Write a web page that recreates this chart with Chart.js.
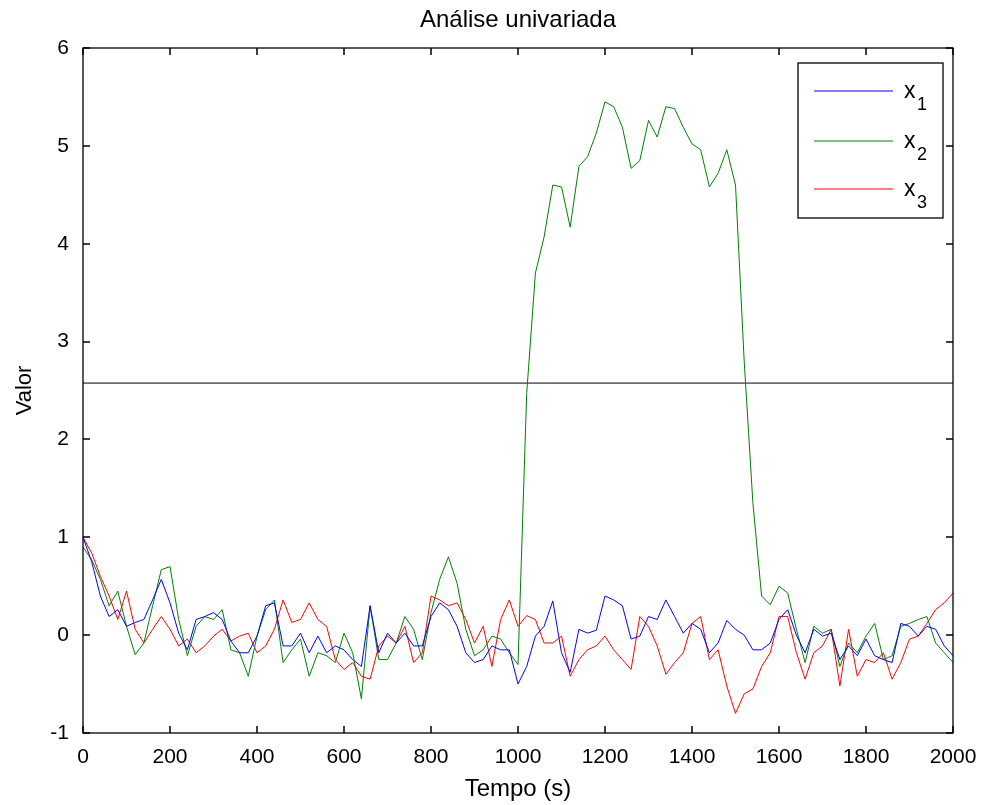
<!DOCTYPE html>
<html lang="pt">
<head>
<meta charset="UTF-8">
<script src="https://cdn.jsdelivr.net/npm/chart.js"></script>
<title>Análise univariada</title>
<style>
  body { margin: 0; background: #fff; }
  #wrap { width: 984px; height: 805px; }
</style>
</head>
<body>
<div id="wrap"><canvas id="chart" width="984" height="805"></canvas></div>
<script>
// tempo (s), amostrado a cada 20 s
const time = [0,20,40,60,80,100,120,140,160,180,200,220,240,260,280,300,320,340,360,380,
  400,420,440,460,480,500,520,540,560,580,600,620,640,660,680,700,720,740,760,780,
  800,820,840,860,880,900,920,940,960,980,1000,1020,1040,1060,1080,1100,1120,1140,1160,1180,
  1200,1220,1240,1260,1280,1300,1320,1340,1360,1380,1400,1420,1440,1460,1480,1500,1520,1540,1560,1580,
  1600,1620,1640,1660,1680,1700,1720,1740,1760,1780,1800,1820,1840,1860,1880,1900,1920,1940,1960,1980,2000];

const x1 = [1.0,0.75,0.4,0.19,0.26,0.09,0.13,0.16,0.36,0.57,0.33,0.02,-0.15,0.16,0.19,0.23,0.16,-0.06,-0.18,-0.18,
  -0.01,0.3,0.33,-0.11,-0.11,0.02,-0.18,-0.01,-0.18,-0.11,-0.15,-0.25,-0.32,0.3,-0.18,0.02,-0.08,0.02,-0.11,-0.11,
  0.19,0.33,0.26,0.09,-0.18,-0.28,-0.25,-0.11,-0.15,-0.15,-0.5,-0.32,-0.01,0.09,0.35,-0.18,-0.38,0.06,0.02,0.05,
  0.4,0.36,0.3,-0.04,-0.01,0.19,0.16,0.36,0.19,0.02,0.12,0.06,-0.18,-0.08,0.15,0.06,0.0,-0.15,-0.15,-0.08,
  0.16,0.26,0.0,-0.18,0.06,-0.01,0.02,-0.25,-0.11,-0.21,-0.04,-0.21,-0.25,-0.28,0.12,0.09,-0.01,0.09,0.06,-0.11,-0.21];

const x2 = [0.9,0.77,0.57,0.3,0.45,0.09,-0.2,-0.08,0.3,0.67,0.7,0.16,-0.21,0.09,0.19,0.16,0.26,-0.15,-0.18,-0.42,
  -0.01,0.26,0.36,-0.28,-0.15,-0.04,-0.42,-0.18,-0.21,-0.28,0.02,-0.18,-0.65,0.3,-0.25,-0.25,-0.08,0.19,0.06,-0.25,
  0.23,0.57,0.8,0.53,0.06,-0.21,-0.15,-0.01,-0.04,-0.18,-0.3,2.47,3.7,4.07,4.6,4.58,4.17,4.79,4.89,5.13,
  5.45,5.4,5.19,4.77,4.85,5.26,5.09,5.4,5.38,5.19,5.02,4.96,4.58,4.72,4.96,4.6,2.8,1.35,0.4,0.31,
  0.5,0.43,0.06,-0.28,0.09,0.02,0.06,-0.32,-0.08,-0.18,-0.01,0.12,-0.25,-0.21,0.09,0.12,0.16,0.19,-0.08,-0.18,-0.28];

const x3 = [1.0,0.84,0.6,0.4,0.16,0.45,0.06,-0.08,0.06,0.19,0.06,-0.11,-0.04,-0.18,-0.11,-0.01,0.06,-0.06,-0.01,0.02,
  -0.18,-0.11,0.06,0.36,0.13,0.16,0.33,0.16,0.09,-0.25,-0.35,-0.28,-0.42,-0.45,-0.11,-0.01,-0.08,0.09,-0.28,-0.18,
  0.4,0.36,0.3,0.33,0.16,-0.08,0.09,-0.32,0.16,0.36,0.09,0.2,0.16,-0.08,-0.08,-0.01,-0.42,-0.25,-0.15,-0.11,
  -0.01,-0.15,-0.25,-0.35,0.19,0.09,-0.11,-0.4,-0.28,-0.18,0.12,0.19,-0.25,-0.15,-0.52,-0.8,-0.6,-0.55,-0.32,-0.18,
  0.19,0.19,-0.18,-0.45,-0.18,-0.11,0.06,-0.52,0.06,-0.42,-0.25,-0.28,-0.18,-0.45,-0.28,-0.04,-0.01,0.12,0.26,0.33,0.43];

// limite de controle
const limit = 2.576;

const seriesNames = ['1', '2', '3'];
const seriesColors = ['#0000ff', '#008000', '#ff0000'];
const xTicks = [0, 200, 400, 600, 800, 1000, 1200, 1400, 1600, 1800, 2000];
const yTicks = [-1, 0, 1, 2, 3, 4, 5, 6];
const chartTitle = 'Análise univariada';

const FONT = '"Liberation Sans", Arial, sans-serif';

function pts(arr) {
  return arr.map((v, i) => ({ x: time[i], y: v }));
}

// titulo, caixa dos eixos, ticks para dentro e legenda no estilo MATLAB
const matlabBox = {
  id: 'matlabBox',
  afterDraw(chart) {
    const c = chart.ctx;
    const a = chart.chartArea;
    const sx = chart.scales.x, sy = chart.scales.y;
    const len = 7;
    const L = Math.round(a.left), R = Math.round(a.right);
    const T = Math.round(a.top), B = Math.round(a.bottom);
    c.save();

    c.fillStyle = '#000';
    c.font = '24px ' + FONT;
    c.textAlign = 'center';
    c.textBaseline = 'middle';
    c.fillText(chartTitle, (a.left + a.right) / 2, 20);

    c.strokeStyle = '#000';
    c.lineWidth = 1.5;
    c.beginPath();
    xTicks.forEach(t => {
      const px = Math.round(sx.getPixelForValue(t));
      c.moveTo(px, B); c.lineTo(px, B - len);
      c.moveTo(px, T); c.lineTo(px, T + len);
    });
    yTicks.forEach(t => {
      const py = Math.round(sy.getPixelForValue(t));
      c.moveTo(L, py); c.lineTo(L + len, py);
      c.moveTo(R, py); c.lineTo(R - len, py);
    });
    c.stroke();
    c.lineWidth = 1.3;
    c.strokeRect(L, T, R - L, B - T);

    // legenda
    const lx = R - 155, ly = T + 15;
    const lw = 145, lh = 155;
    c.fillStyle = '#fff';
    c.fillRect(lx, ly, lw, lh);
    c.strokeStyle = '#000';
    c.lineWidth = 1.3;
    c.strokeRect(lx, ly, lw, lh);
    const rows = [28, 78, 126];
    seriesNames.forEach((n, i) => {
      const y = ly + rows[i];
      c.strokeStyle = seriesColors[i];
      c.lineWidth = 1.2;
      c.beginPath();
      c.moveTo(lx + 16, y); c.lineTo(lx + 95, y);
      c.stroke();
      c.fillStyle = '#000';
      c.textBaseline = 'alphabetic';
      c.textAlign = 'left';
      c.font = '23px ' + FONT;
      c.fillText('x', lx + 106, y + 7);
      c.font = '18px ' + FONT;
      c.fillText(n, lx + 119, y + 19);
    });
    c.restore();
  }
};

new Chart(document.getElementById('chart'), {
  type: 'line',
  data: {
    datasets: [
      { label: 'x1', data: pts(x1), borderColor: seriesColors[0], borderWidth: 1 },
      { label: 'x2', data: pts(x2), borderColor: seriesColors[1], borderWidth: 1 },
      { label: 'x3', data: pts(x3), borderColor: seriesColors[2], borderWidth: 1 },
      { label: 'limite', data: [{ x: 0, y: limit }, { x: 2000, y: limit }], borderColor: '#000', borderWidth: 1 }
    ]
  },
  options: {
    responsive: false,
    animation: false,
    events: [],
    layout: { padding: { left: 0, right: 31, top: 48, bottom: 0 } },
    elements: { point: { radius: 0 }, line: { tension: 0 } },
    plugins: {
      legend: { display: false },
      tooltip: { enabled: false },
      title: { display: false }
    },
    scales: {
      x: {
        type: 'linear',
        min: 0, max: 2000,
        afterFit: s => { s.height = 72; },
        afterBuildTicks: s => { s.ticks = xTicks.map(v => ({ value: v })); },
        grid: { display: false },
        border: { display: false },
        ticks: { color: '#000', font: { family: FONT, size: 21 }, padding: 4, maxRotation: 0, callback: v => String(v) },
        title: { display: true, text: 'Tempo (s)', color: '#000', font: { family: FONT, size: 24 }, padding: { top: 0, bottom: 1 } }
      },
      y: {
        type: 'linear',
        min: -1, max: 6,
        afterFit: s => { s.width = 83; },
        afterBuildTicks: s => { s.ticks = yTicks.map(v => ({ value: v })); },
        grid: { display: false },
        border: { display: false },
        ticks: { color: '#000', font: { family: FONT, size: 21 }, padding: 6, callback: v => String(v) },
        title: { display: true, text: 'Valor', color: '#000', font: { family: FONT, size: 22 }, padding: { top: 12, bottom: 0 } }
      }
    }
  },
  plugins: [matlabBox]
});
</script>
</body>
</html>
